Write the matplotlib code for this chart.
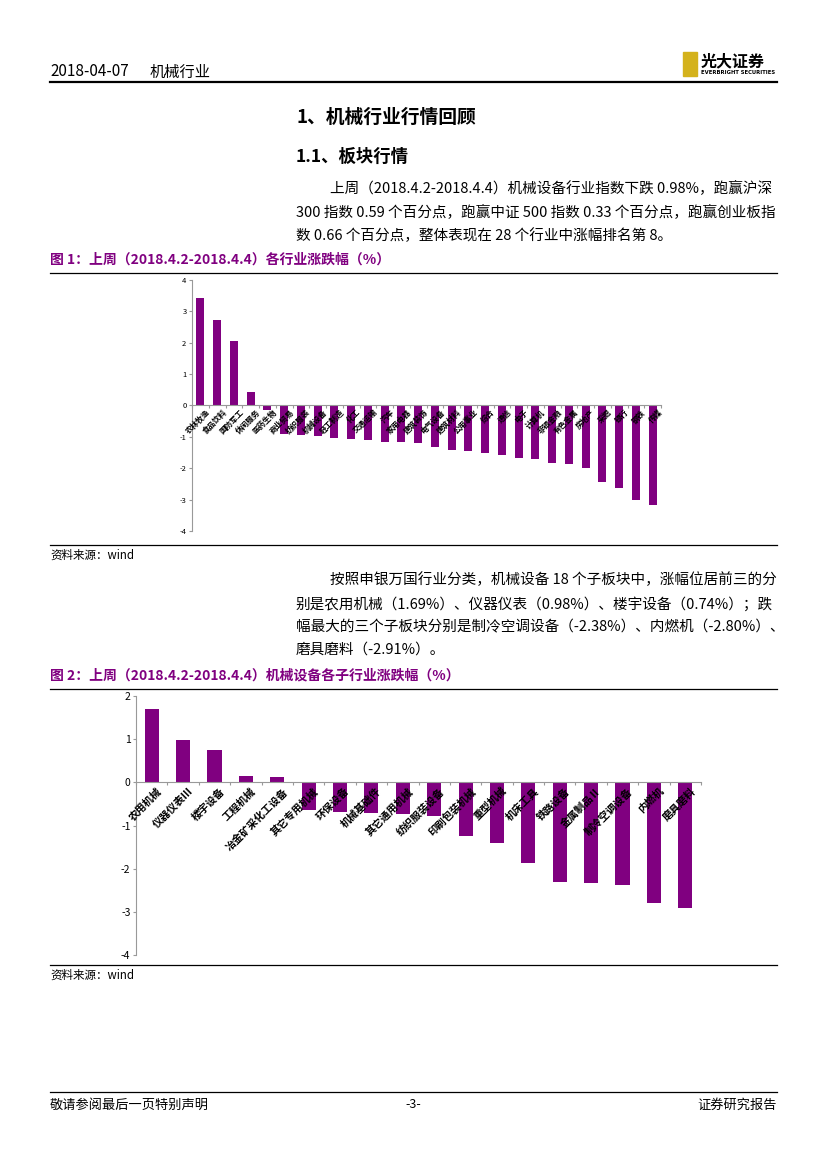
import numpy as np
import matplotlib
matplotlib.use('Agg')
import matplotlib.pyplot as plt
from matplotlib.lines import Line2D
from matplotlib.patches import Rectangle

plt.rcParams['font.family'] = ['Noto Sans CJK SC', 'DejaVu Sans']
plt.rcParams['axes.unicode_minus'] = False

# 图1：各行业涨跌幅
industries = ['农林牧渔', '食品饮料', '国防军工', '休闲服务', '医药生物', '商业贸易',
              '纺织服装', '机械设备', '轻工制造', '化工', '交通运输', '汽车',
              '家用电器', '建筑装饰', '电气设备', '建筑材料', '公用事业', '综合',
              '通信', '电子', '计算机', '非银金融', '有色金属', '房地产',
              '采掘', '银行', '钢铁', '传媒']
ind_chg = [3.42, 2.74, 2.07, 0.42, -0.15, -0.92, -0.95, -0.98, -1.05, -1.07,
           -1.10, -1.15, -1.17, -1.20, -1.33, -1.43, -1.45, -1.50, -1.58, -1.66,
           -1.70, -1.84, -1.88, -1.98, -2.45, -2.62, -3.00, -3.17]

# 图2：机械设备各子行业涨跌幅
subs = ['农用机械', '仪器仪表Ⅲ', '楼宇设备', '工程机械', '冶金矿采化工设备',
        '其它专用机械', '环保设备', '机械基础件', '其它通用机械', '纺织服装设备',
        '印刷包装机械', '重型机械', '机床工具', '铁路设备', '金属制品Ⅱ',
        '制冷空调设备', '内燃机', '磨具磨料']
sub_chg = [1.69, 0.98, 0.74, 0.15, 0.12, -0.65, -0.69, -0.70, -0.74, -0.79,
           -1.25, -1.41, -1.87, -2.32, -2.34, -2.38, -2.80, -2.91]

purple = '#800080'
W, H = 827, 1169

fig = plt.figure(figsize=(8.27, 11.69), dpi=100)


def fx(x):
    return x / W


def fy(y):
    return 1 - y / H


def hline(y, x0=50, x1=777, lw=1.0, color='black'):
    fig.add_artist(Line2D([fx(x0), fx(x1)], [fy(y), fy(y)], lw=lw, color=color))


def txt(x, y, s, size=9, **kw):
    fig.text(fx(x), fy(y), s, fontsize=size, va='center', **kw)


# 页眉
txt(50, 72, '2018-04-07', size=11)
txt(150, 72, '机械行业', size=11)
hline(82, lw=1.6)
fig.add_artist(Rectangle((fx(683), fy(76)), fx(14), 24 / H, color='#d4b21c'))
txt(701, 61, '光大证券', size=11.5, fontweight='bold')
txt(701, 73, 'EVERBRIGHT SECURITIES', size=3.8, fontweight='bold', family='DejaVu Sans')

# 标题与正文
body = 10.5
txt(296, 117, '1、机械行业行情回顾', size=13.5, fontweight='bold')
txt(296, 157, '1.1、板块行情', size=12.5, fontweight='bold')
txt(330, 189, '上周（2018.4.2-2018.4.4）机械设备行业指数下跌 0.98%，跑赢沪深', size=body)
txt(296, 213, '300 指数 0.59 个百分点，跑赢中证 500 指数 0.33 个百分点，跑赢创业板指', size=body)
txt(296, 236, '数 0.66 个百分点，整体表现在 28 个行业中涨幅排名第 8。', size=body)

txt(50, 260, '图 1：上周（2018.4.2-2018.4.4）各行业涨跌幅（%）', size=10,
    fontweight='bold', color=purple)
hline(273, lw=0.9)
hline(545, lw=0.9)
txt(50, 555, '资料来源：wind', size=8.3)

txt(330, 580, '按照申银万国行业分类，机械设备 18 个子板块中，涨幅位居前三的分', size=body)
txt(296, 604, '别是农用机械（1.69%）、仪器仪表（0.98%）、楼宇设备（0.74%）；跌', size=body)
txt(296, 627, '幅最大的三个子板块分别是制冷空调设备（-2.38%）、内燃机（-2.80%）、', size=body)
txt(296, 650, '磨具磨料（-2.91%）。', size=body)

txt(50, 676, '图 2：上周（2018.4.2-2018.4.4）机械设备各子行业涨跌幅（%）', size=10,
    fontweight='bold', color=purple)
hline(689, lw=0.9)
hline(965, lw=0.9)
txt(50, 975, '资料来源：wind', size=8.3)

# 页脚
hline(1092, lw=0.9)
txt(50, 1105, '敬请参阅最后一页特别声明', size=9.5)
txt(413, 1105, '-3-', size=9, ha='center')
txt(777, 1105, '证券研究报告', size=9.5, ha='right')


def bar_chart(ax, labels, values, ylim, width, tick_size, label_size, dx, dy):
    n = len(values)
    x = np.arange(n)
    ax.bar(x, values, width=width, color=purple)
    ax.set_xlim(-0.5, n - 0.5)
    ax.set_ylim(*ylim)
    ax.set_yticks(np.arange(ylim[0], ylim[1] + 1, 1))
    ax.tick_params(axis='y', labelsize=tick_size, length=2, color='#999999', pad=2)
    ax.set_xticks(np.arange(n + 1) - 0.5)
    ax.set_xticklabels([])
    ax.tick_params(axis='x', length=2.5, color='#999999', direction='out')
    for s in ('top', 'right'):
        ax.spines[s].set_visible(False)
    ax.spines['bottom'].set_position(('data', 0))
    ax.spines['bottom'].set_color('#999999')
    ax.spines['left'].set_color('#999999')
    ax.patch.set_alpha(0)
    for i, lab in enumerate(labels):
        ax.text(i + dx, dy, lab, rotation=45, rotation_mode='anchor', ha='right',
                va='top', fontsize=label_size, fontweight='bold', zorder=5)


ax1 = fig.add_axes([fx(192), fy(531), 469 / W, 251 / H])
bar_chart(ax1, industries, ind_chg, (-4, 4), 0.48, 5.5, 5.5, 0.3, -0.08)

ax2 = fig.add_axes([fx(136), fy(955), 565 / W, 259 / H])
bar_chart(ax2, subs, sub_chg, (-4, 2), 0.45, 7.5, 7.5, 0.15, -0.08)

fig.savefig('out.png', dpi=100)
